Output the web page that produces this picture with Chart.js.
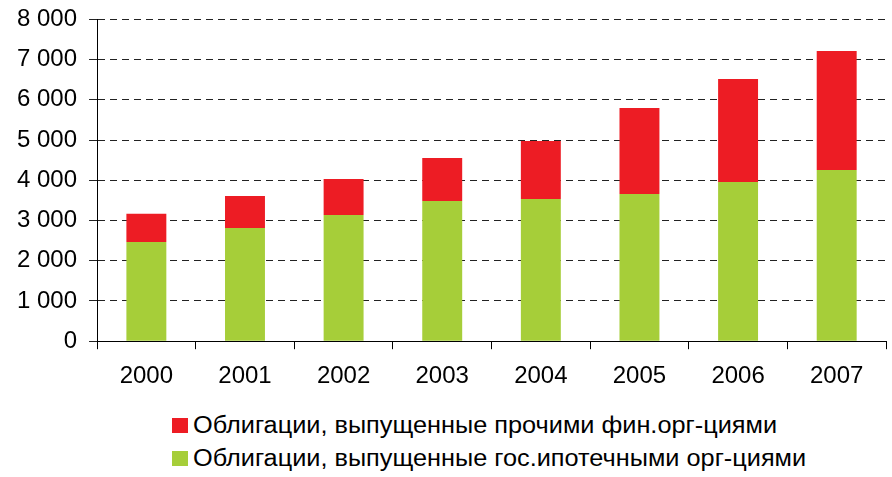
<!DOCTYPE html>
<html>
<head>
<meta charset="utf-8">
<script src="https://cdn.jsdelivr.net/npm/chart.js@4.4.1/dist/chart.umd.min.js"></script>
<style>
  html, body { margin: 0; padding: 0; background: #fff; overflow: hidden; }
  #wrap { position: relative; width: 892px; height: 477px; overflow: hidden; }
  #chart { position: absolute; left: 0; top: -7px; }
  #legend { position: absolute; left: 172px; top: 409px; font-family: "Liberation Sans", Arial, sans-serif; font-size: 23px; color: #000; }
  .item { display: flex; align-items: center; height: 33px; white-space: nowrap; }
  .box { width: 16px; height: 15px; margin-right: 5px; flex: none; }
  .txt { display: inline-block; transform: scaleX(1.1); transform-origin: left center; }
</style>
</head>
<body>
<div id="wrap">
  <canvas id="chart" width="892" height="411"></canvas>
  <div id="legend"></div>
</div>
<script>
const years = ['2000', '2001', '2002', '2003', '2004', '2005', '2006', '2007'];
// bonds of government mortgage agencies (green, bottom)
const govMortgage = [2467, 2815, 3138, 3486, 3535, 3660, 3958, 4256];
// bonds of other financial organisations (red, top)
const otherFinance = [700, 795, 894, 1068, 1442, 2136, 2559, 2956];
const yTicks = [0, 1000, 2000, 3000, 4000, 5000, 6000, 7000, 8000];

const labelOther = 'Облигации, выпущенные прочими фин.орг-циями';
const labelGov = 'Облигации, выпущенные гос.ипотечными орг-циями';

const FONT = '"Liberation Sans", Arial, sans-serif';

function fmt(v) {
    return String(v).replace(/\B(?=(\d{3})+(?!\d))/g, ' ');
}

const ctx = document.getElementById('chart').getContext('2d');
const chart = new Chart(ctx, {
    type: 'bar',
    data: {
        labels: years,
        datasets: [{
            label: labelGov,
            data: govMortgage,
            backgroundColor: '#A6CE39',
            barPercentage: 0.405,
            categoryPercentage: 1
        }, {
            label: labelOther,
            data: otherFinance,
            backgroundColor: '#ED1C24',
            barPercentage: 0.405,
            categoryPercentage: 1
        }]
    },
    options: {
        responsive: false,
        animation: false,
        layout: {
            padding: { left: 5, right: 6, top: 5, bottom: 0 }
        },
        plugins: {
            legend: { display: false },
            tooltip: { enabled: false }
        },
        scales: {
            x: {
                stacked: true,
                grid: {
                    drawOnChartArea: false,
                    color: '#000',
                    tickLength: 8
                },
                border: { color: '#000', width: 1 },
                ticks: {
                    color: '#000',
                    font: { family: FONT, size: 24 },
                    padding: 13
                }
            },
            y: {
                stacked: true,
                min: 0,
                max: 8000,
                afterBuildTicks: axis => {
                    axis.ticks = yTicks.map(v => ({ value: v }));
                },
                grid: {
                    color: '#222',
                    tickLength: 8,
                    tickBorderDash: []
                },
                border: { color: '#000', width: 1, dash: [7, 5] },
                ticks: {
                    color: '#000',
                    font: { family: FONT, size: 24 },
                    padding: 12,
                    callback: v => fmt(v)
                }
            }
        }
    }
});

// legend: red series listed first, green second
const legendEl = document.getElementById('legend');
[chart.data.datasets[1], chart.data.datasets[0]].forEach(ds => {
    const item = document.createElement('div');
    item.className = 'item';
    const box = document.createElement('span');
    box.className = 'box';
    box.style.background = ds.backgroundColor;
    const text = document.createElement('span');
    text.className = 'txt';
    text.textContent = ds.label;
    item.appendChild(box);
    item.appendChild(text);
    legendEl.appendChild(item);
});
</script>
</body>
</html>
